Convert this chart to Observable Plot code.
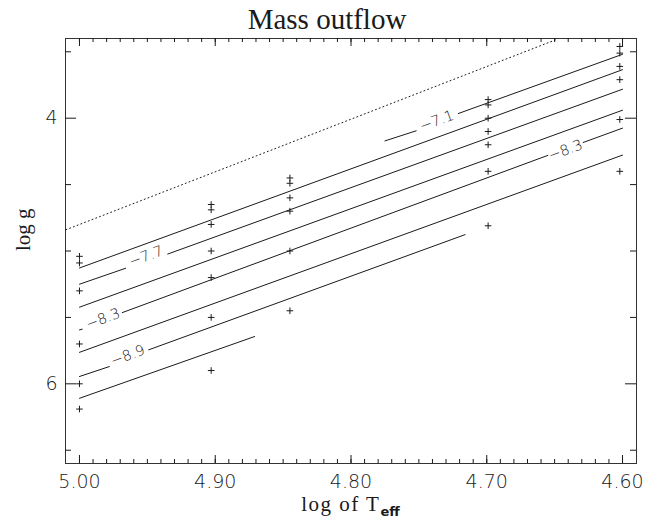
<!DOCTYPE html>
<html><head><meta charset="utf-8">
<script src="https://cdn.jsdelivr.net/npm/d3@7"></script>
<script src="https://cdn.jsdelivr.net/npm/@observablehq/plot@0.6"></script>
<style>body{margin:0;background:#fff}</style>
</head><body><div id="chart"></div>
<script>
// ---- data ----
const titleText = "Mass outflow";
const xTickLabels = [5.00, 4.90, 4.80, 4.70, 4.60];
const yTickLabels = [4, 6];

// observed model grid points (+ markers), by log Teff column
const teffColumns = [5.000, 4.903, 4.845, 4.699, 4.602];
const loggAt500 = [5.04, 5.09, 5.30, 5.70, 6.00, 6.19];
const loggAt490 = [4.65, 4.69, 4.80, 5.00, 5.20, 5.50, 5.90];
const loggAt485 = [4.45, 4.49, 4.60, 4.70, 5.00, 5.45];
const loggAt470 = [3.86, 3.90, 4.00, 4.10, 4.20, 4.40, 4.81];
const loggAt460 = [3.46, 3.51, 3.61, 3.71, 4.01, 4.40];

// contour lines of log mass-loss rate: segments of [logTeff, log g]
const contourM71 = [[[4.775, 4.171], [4.752, 4.095]], [[4.721, 3.965], [4.600, 3.519]]];
const contourM74 = [[[5.000, 5.128], [4.600, 3.635]]];
const contourM77 = [[[5.000, 5.250], [4.966, 5.130]], [[4.935, 5.023], [4.600, 3.782]]];
const contourM80 = [[[5.000, 5.423], [4.600, 3.940]]];
const contourM83 = [[[5.000, 5.594], [4.998, 5.589]], [[4.9685, 5.464], [4.655, 4.280]], [[4.629, 4.183], [4.600, 4.075]]];
const contourM86 = [[[5.000, 5.763], [4.600, 4.278]]];
const contourM89 = [[[5.000, 5.945], [4.978, 5.870]], [[4.949, 5.744], [4.716, 4.877]]];
const contourM92 = [[[5.000, 6.109], [4.871, 5.644]]];
const dottedLimit = [[5.010, 4.840], [4.648, 3.405]];

// contour labels
const labelText = ["−7.1", "−7.7", "−8.3", "−8.3", "−8.9"];
const labelX = [4.7368, 4.9510, 4.9827, 4.6420, 4.9644];
const labelY = [4.020, 5.040, 5.511, 4.241, 5.787];

// ---- build tables ----
const markerCols = [loggAt500, loggAt490, loggAt485, loggAt470, loggAt460];
const markers = markerCols.flatMap((col, i) => col.map(g => ({x: teffColumns[i], y: g})));

const contours = [contourM71, contourM74, contourM77, contourM80, contourM83, contourM86, contourM89, contourM92];
const segRows = [];
contours.forEach((c, ci) => c.forEach((seg, si) => seg.forEach(p => segRows.push({seg: ci + "-" + si, x: p[0], y: p[1]}))));
const dotRows = dottedLimit.map(p => ({x: p[0], y: p[1]}));
const labels = labelText.map((t, i) => ({text: t, x: labelX[i], y: labelY[i]}));

// ---- layout ----
const W = 652, H = 521, mT = 38, mB = 58, mL = 65, mR = 16;
const pH = H - mT - mB, pW = W - mL - mR;
const xMinor = d3.range(460, 501).map(v => v / 100);
const xMajor = xTickLabels;
const yMinor = [3.5, 4.5, 5.0, 5.5, 6.5];
const yMajor = yTickLabels;

const thinPlus = {draw(ctx, size) {
  const r = Math.sqrt(size / Math.PI);
  ctx.moveTo(-r, 0); ctx.lineTo(r, 0);
  ctx.moveTo(0, -r); ctx.lineTo(0, r);
}};

const ink = "#1a1a1a";
const numFont = "'DejaVu Sans', sans-serif";
const serif = "'Liberation Serif', 'DejaVu Serif', serif";

const chart = Plot.plot({
  width: W, height: H,
  marginTop: mT, marginBottom: mB, marginLeft: mL, marginRight: mR,
  style: {fontFamily: numFont, background: "#fff", color: ink},
  x: {domain: [5.0103, 4.5897]},
  y: {domain: [3.4, 6.6], reverse: true},
  marks: [
    Plot.frame({stroke: "#333", strokeWidth: 1}),
    // inward ticks
    Plot.ruleX(xMinor, {insetTop: pH - 4, stroke: ink}),
    Plot.ruleX(xMajor, {insetTop: pH - 8, stroke: ink}),
    Plot.ruleX(xMinor, {insetBottom: pH - 4, stroke: ink}),
    Plot.ruleX(xMajor, {insetBottom: pH - 8, stroke: ink}),
    Plot.ruleY(yMinor, {insetRight: pW - 6, stroke: ink}),
    Plot.ruleY(yMajor, {insetRight: pW - 11, stroke: ink}),
    Plot.ruleY(yMinor, {insetLeft: pW - 6, stroke: ink}),
    Plot.ruleY(yMajor, {insetLeft: pW - 11, stroke: ink}),
    Plot.axisX({ticks: xTickLabels, tickFormat: d3.format(".2f"), tickSize: 0, tickPadding: 11,
      fontSize: 19, fontWeight: 300, label: null, fill: ink}),
    Plot.axisY({ticks: yTickLabels, tickFormat: d3.format("d"), tickSize: 0, tickPadding: 8,
      fontSize: 19, fontWeight: 300, label: null, fill: ink}),
    // limit line
    Plot.line(dotRows, {x: "x", y: "y", stroke: ink, strokeWidth: 1, strokeDasharray: "1,3", clip: true}),
    // contours
    Plot.line(segRows, {x: "x", y: "y", z: "seg", stroke: ink, strokeWidth: 1}),
    Plot.text(labels, {x: "x", y: "y", text: "text", rotate: -20, fontSize: 14.5, fontWeight: 300, fill: ink}),
    // grid points
    Plot.dot(markers, {x: "x", y: "y", symbol: thinPlus, r: 3.3, stroke: ink, strokeWidth: 1, fill: "none"}),
    // title and y label
    Plot.text([titleText], {frameAnchor: "top", lineAnchor: "middle", dy: -19, dx: -24, fontSize: 29, fontWeight: "normal",
      fontFamily: serif, letterSpacing: 3.5, fill: ink}),
    Plot.text(["log g"], {frameAnchor: "left", dx: -42, rotate: -90, fontSize: 21, fontFamily: serif, letterSpacing: 1.5, fill: ink})
  ]
});

// x-axis title with subscript
const svg = d3.select(chart);
const xt = svg.append("text")
  .attr("x", mL + pW / 2).attr("y", H - 10)
  .attr("text-anchor", "middle")
  .attr("font-family", serif).attr("font-size", 21).attr("letter-spacing", 1.5)
  .attr("fill", ink);
xt.append("tspan").text("log of T");
xt.append("tspan").attr("dy", 5).attr("font-size", 13).attr("font-family", numFont).attr("font-weight", "bold").attr("letter-spacing", 0).text("eff");

document.getElementById("chart").appendChild(chart);
</script></body></html>
